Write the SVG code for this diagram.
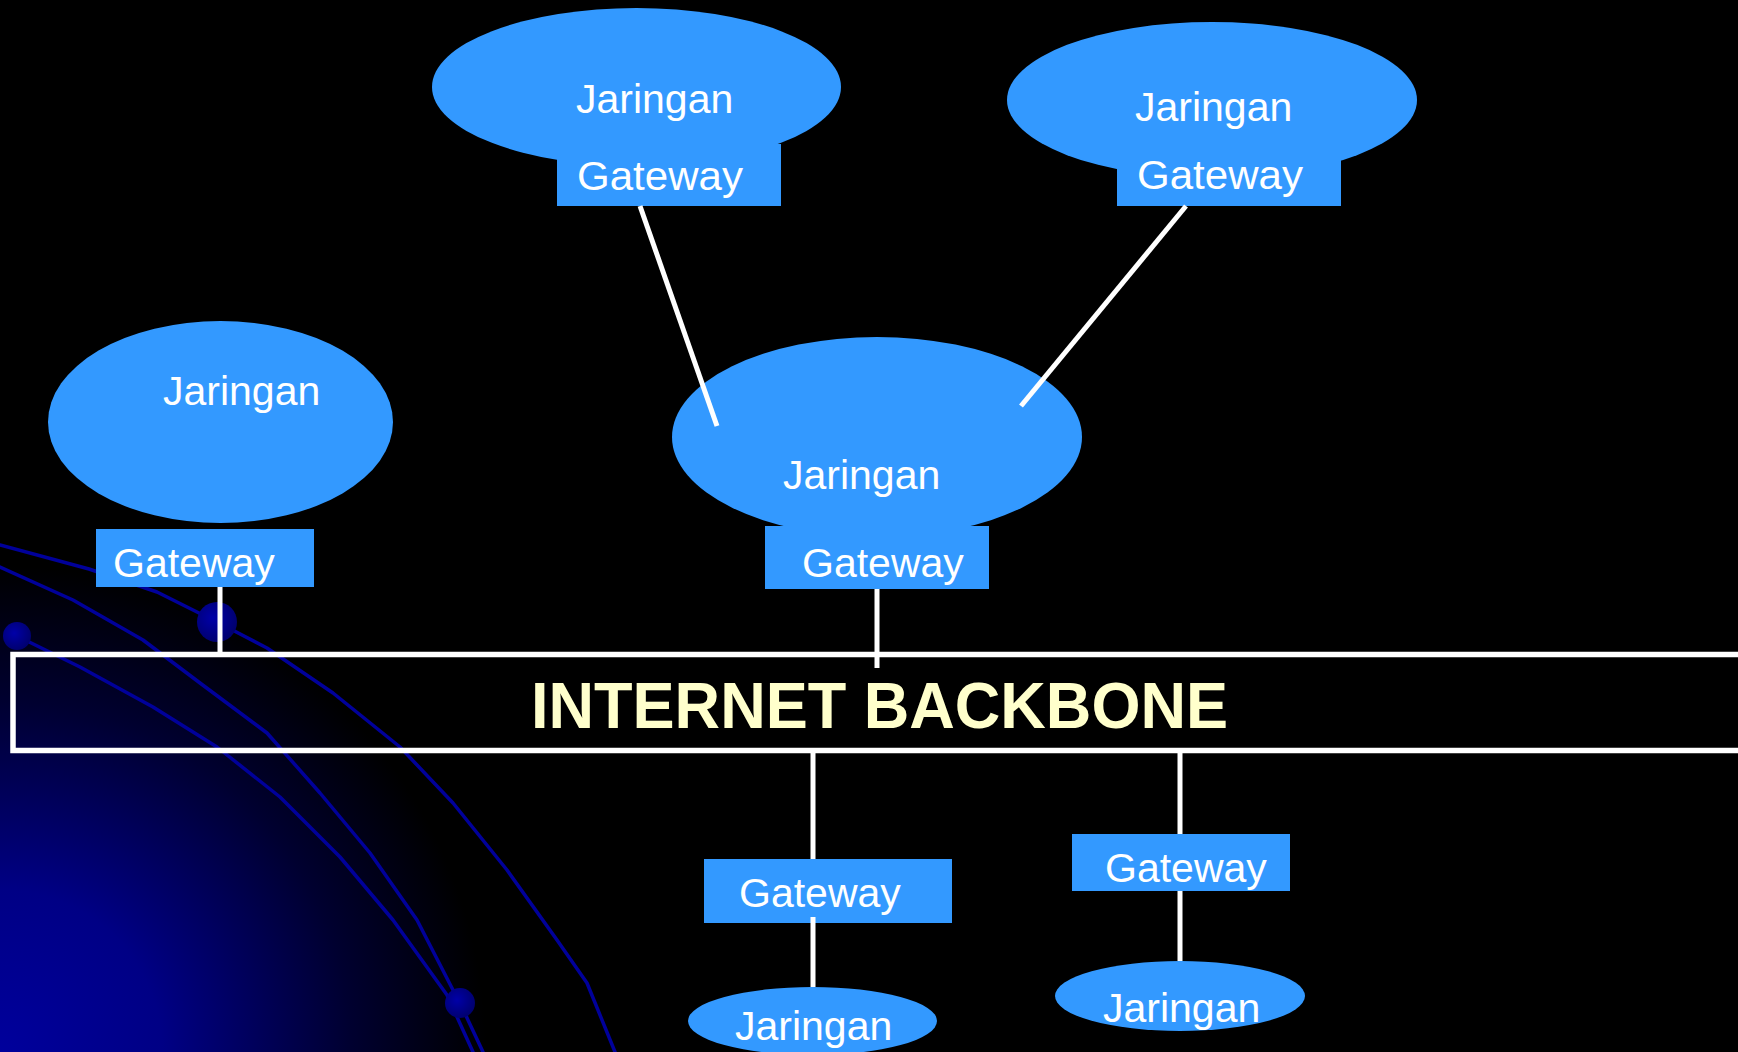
<svg xmlns="http://www.w3.org/2000/svg" width="1738" height="1052" viewBox="0 0 1738 1052">
  <style>
    .net { fill: #3399FF; }
    .gw { fill: #3399FF; }
    .lbl { font-family: "Liberation Sans", Arial, sans-serif; font-size: 41px; fill: #FFFFFF; }
    .conn { stroke: #FFFFFF; stroke-width: 5; fill: none; }
    .orbit { stroke: #00009A; stroke-width: 3.5; fill: none; stroke-linejoin: round; stroke-linecap: round; }
    .bb { fill: none; stroke: #FFFFFF; stroke-width: 5.5; }
    .bbtext { font-family: "Liberation Sans", Arial, sans-serif; font-size: 64px; font-weight: bold; fill: #FFFFCC; }
  </style>
  <defs>
    <radialGradient id="corner" gradientUnits="userSpaceOnUse" cx="0" cy="1052" r="540">
      <stop offset="0" stop-color="#00009C"/>
      <stop offset="0.3" stop-color="#000085"/>
      <stop offset="0.65" stop-color="#000030"/>
      <stop offset="0.9" stop-color="#000000"/>
    </radialGradient>
    <radialGradient id="dot" cx="0.4" cy="0.4" r="0.6">
      <stop offset="0" stop-color="#0000A8"/>
      <stop offset="1" stop-color="#000070"/>
    </radialGradient>
  </defs>

  <!-- background -->
  <rect x="0" y="0" width="1738" height="1052" fill="#000000"/>
  <rect x="0" y="0" width="1738" height="1052" fill="url(#corner)"/>
  <g id="decor">
    <path class="orbit" d="M0,545 L89,569 L157,592 L217,622 L267,648 L333,693 L400,747 L453,803 L507,870 L557,940 L587,983 L615,1052"/>
    <path class="orbit" d="M0,567 L73,600 L143,640 L200,683 L267,733 L320,793 L370,853 L417,920 L453,990 L460,1003 L483,1052"/>
    <path class="orbit" d="M17,636 L80,667 L153,707 L217,747 L280,797 L340,857 L393,920 L447,995 L473,1052"/>
    <circle cx="217" cy="622" r="20" fill="url(#dot)"/>
    <circle cx="17" cy="636" r="14" fill="url(#dot)"/>
    <circle cx="460" cy="1003" r="15" fill="url(#dot)"/>
  </g>

  <!-- backbone -->
  <g id="backbone">
    <rect class="bb" x="13" y="654.5" width="1800" height="96"/>
    <text class="bbtext" x="531" y="728" textLength="697" lengthAdjust="spacingAndGlyphs">INTERNET BACKBONE</text>
  </g>

  <!-- nodes -->
  <g id="net-top-left">
    <ellipse class="net" cx="636.5" cy="87" rx="204.5" ry="79"/>
    <text class="lbl" x="576" y="113">Jaringan</text>
  </g>
  <g id="gw-top-left">
    <rect class="gw" x="557" y="144" width="224" height="62"/>
    <text class="lbl" x="577" y="190" textLength="166" lengthAdjust="spacingAndGlyphs">Gateway</text>
  </g>

  <g id="net-top-right">
    <ellipse class="net" cx="1212" cy="100" rx="205" ry="78"/>
    <text class="lbl" x="1135" y="121">Jaringan</text>
  </g>
  <g id="gw-top-right">
    <rect class="gw" x="1117" y="150" width="224" height="56"/>
    <text class="lbl" x="1137" y="189" textLength="166" lengthAdjust="spacingAndGlyphs">Gateway</text>
  </g>

  <g id="net-left">
    <ellipse class="net" cx="220.5" cy="422" rx="172.5" ry="101"/>
    <text class="lbl" x="163" y="405">Jaringan</text>
  </g>
  <g id="gw-left">
    <rect class="gw" x="96" y="529" width="218" height="58"/>
    <text class="lbl" x="113" y="577">Gateway</text>
  </g>

  <g id="net-middle">
    <ellipse class="net" cx="877" cy="437" rx="205" ry="100"/>
    <text class="lbl" x="783" y="489">Jaringan</text>
  </g>
  <g id="gw-middle">
    <rect class="gw" x="765" y="526" width="224" height="63"/>
    <text class="lbl" x="802" y="577">Gateway</text>
  </g>

  <g id="gw-bottom-left">
    <rect class="gw" x="704" y="859" width="248" height="64"/>
    <text class="lbl" x="739" y="907">Gateway</text>
  </g>
  <g id="net-bottom-left">
    <ellipse class="net" cx="812.5" cy="1021" rx="124.5" ry="34"/>
    <text class="lbl" x="735" y="1040">Jaringan</text>
  </g>

  <g id="gw-bottom-right">
    <rect class="gw" x="1072" y="834" width="218" height="57"/>
    <text class="lbl" x="1105" y="882">Gateway</text>
  </g>
  <g id="net-bottom-right">
    <ellipse class="net" cx="1180" cy="996" rx="125" ry="35"/>
    <text class="lbl" x="1103" y="1022">Jaringan</text>
  </g>

  <!-- connectors -->
  <g id="connectors">
    <line class="conn" x1="640" y1="206" x2="717" y2="426"/>
    <line class="conn" x1="1186" y1="206" x2="1021" y2="406"/>
    <line class="conn" x1="220" y1="587" x2="220" y2="652"/>
    <line class="conn" x1="877" y1="589" x2="877" y2="668"/>
    <line class="conn" x1="813" y1="753" x2="813" y2="859"/>
    <line class="conn" x1="813" y1="917" x2="813" y2="987"/>
    <line class="conn" x1="1180" y1="753" x2="1180" y2="834"/>
    <line class="conn" x1="1180" y1="891" x2="1180" y2="961"/>
  </g>
</svg>
